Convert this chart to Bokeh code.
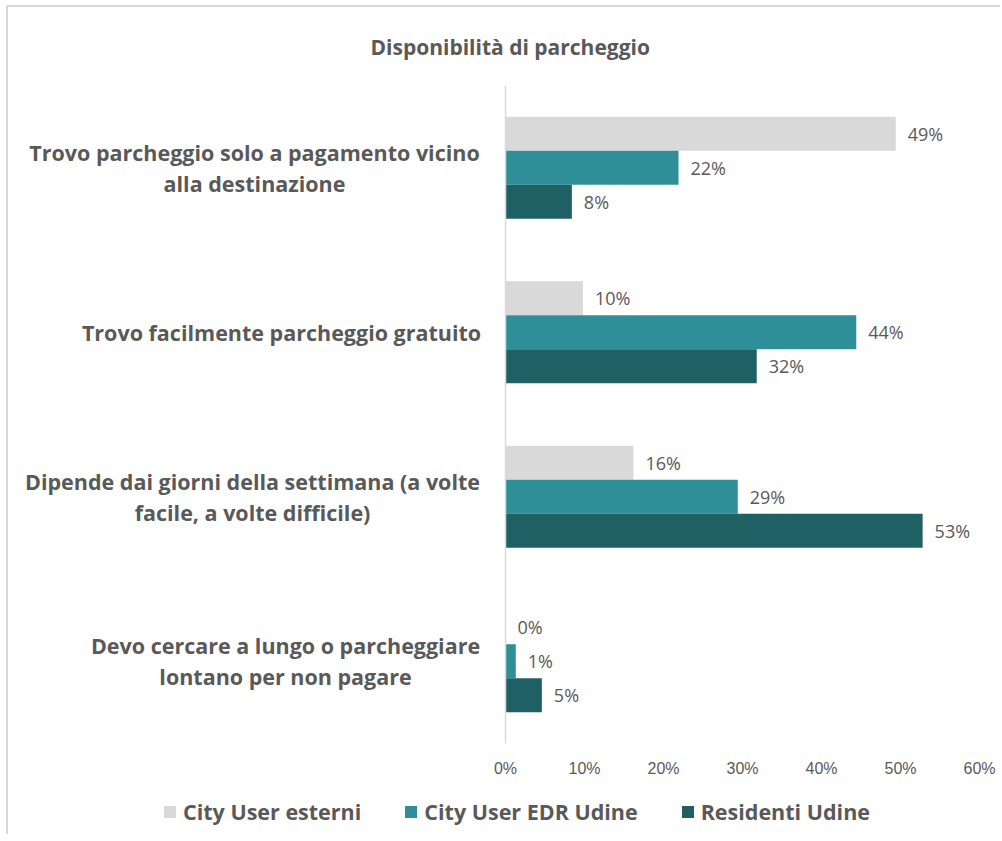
from bokeh.plotting import figure
from bokeh.layouts import column
from bokeh.models import ColumnDataSource, FactorRange, Range1d, Legend, LegendItem, FixedTicker, Span
from bokeh.transform import dodge
from bokeh.core.properties import value
from bokeh.embed import file_html
from bokeh.resources import INLINE

title = "Disponibilità di parcheggio"
categories = [
    "Trovo parcheggio solo a pagamento vicino\nalla destinazione",
    "Trovo facilmente parcheggio gratuito",
    "Dipende dai giorni della settimana (a volte\nfacile, a volte difficile)",
    "Devo cercare a lungo o parcheggiare\nlontano per non pagare",
]
series = ["City User esterni", "City User EDR Udine", "Residenti Udine"]
city_user_esterni = [49.4, 9.8, 16.2, 0.0]
city_user_edr_udine = [21.9, 44.4, 29.4, 1.3]
residenti_udine = [8.4, 31.8, 52.8, 4.6]
x_ticks = [0, 10, 20, 30, 40, 50, 60]
x_tick_labels = ["0%", "10%", "20%", "30%", "40%", "50%", "60%"]

# layout/style: horizontal centre of each category label, px left of the 0% line
label_centre_px = [-251, -224, -253, -220]

colors = ["#D9D9D9", "#2F8F98", "#1F6064"]
TXT = "#595959"
FONT = "Open Sans"

columns = [city_user_esterni, city_user_edr_udine, residenti_udine]
data = {"cat": categories, "zero": [0] * len(categories), "lx": label_centre_px}
for i, col in enumerate(columns):
    data[f"v{i}"] = col
    data[f"l{i}"] = [f"{round(v):d}%" for v in col]
source = ColumnDataSource(data)

# frame spans from the left border to 60%; the 0% line sits 487px into the frame
p = figure(
    width=992, height=783,
    y_range=FactorRange(factors=list(reversed(categories))),
    x_range=Range1d(-61.65, 60),
    output_backend="svg", toolbar_location=None,
    min_border_left=10, min_border_right=21, min_border_top=77, min_border_bottom=47,
)
p.outline_line_color = None
p.background_fill_color = "white"
p.border_fill_color = "white"
p.xgrid.grid_line_color = None
p.ygrid.grid_line_color = None
p.yaxis.visible = False

p.add_layout(Span(location=0, dimension="height", line_color="#D9D9D9", line_width=1.5))

bh = 0.207
offsets = [bh, 0.0, -bh]
for i in range(3):
    p.hbar(y=dodge("cat", offsets[i], range=p.y_range), right=f"v{i}", left=0,
           height=bh, fill_color=colors[i], line_color=None, source=source)
    p.text(x=f"v{i}", y=dodge("cat", offsets[i], range=p.y_range), text=f"l{i}",
           x_offset=12, text_align="left", text_baseline="middle",
           text_font=value(FONT), text_font_size="18px", text_color=TXT, source=source)

# category labels, centred multi-line text left of the 0% line
p.text(x="zero", y="cat", text="cat", x_offset="lx", source=source,
       text_align="center", text_baseline="middle",
       text_font=value(FONT), text_font_style="bold",
       text_font_size="21.5px", text_color=TXT, text_line_height=1.07)

# x axis
p.xaxis.ticker = FixedTicker(ticks=x_ticks)
p.xaxis.major_label_overrides = {t: l for t, l in zip(x_ticks, x_tick_labels)}
p.xaxis.axis_line_color = None
p.xaxis.major_tick_line_color = None
p.xaxis.minor_tick_line_color = None
p.xaxis.major_label_standoff = 10
p.xaxis.major_label_text_font = "Liberation Sans"
p.xaxis.major_label_text_font_size = "16px"
p.xaxis.major_label_text_color = TXT

# title
p.title.text = title
p.title.align = "left"
p.title.offset = 352
p.title.vertical_align = "middle"
p.title.standoff = 48
p.title.text_font = FONT
p.title.text_font_style = "bold"
p.title.text_font_size = "21px"
p.title.text_color = TXT

# legend strip below the chart (its renderers draw nothing themselves)
pl = figure(width=992, height=44, x_range=Range1d(100, 101),
            y_range=FactorRange(factors=list(reversed(categories))),
            output_backend="svg", toolbar_location=None,
            min_border_left=0, min_border_right=0, min_border_top=0, min_border_bottom=0)
pl.axis.visible = False
pl.grid.visible = False
pl.outline_line_color = None
pl.border_fill_color = "white"
pl.background_fill_color = "white"
items = []
for i, (s, c) in enumerate(zip(series, colors)):
    r = pl.hbar(y=dodge("cat", offsets[i], range=pl.y_range), right=f"v{i}", left=0,
                height=0, fill_color=c, line_color=None, source=source)
    items.append(LegendItem(label=s, renderers=[r]))
legend = Legend(
    items=items, orientation="horizontal", location=(144, 8),
    glyph_width=15, glyph_height=15, label_standoff=6, spacing=42,
    margin=0, padding=0, border_line_color=None, background_fill_alpha=0,
    label_text_font=FONT, label_text_font_style="bold", label_text_font_size="21.5px",
    label_text_color=TXT,
)
pl.add_layout(legend, "center")

layout = column(p, pl, spacing=0)
layout.styles = {"margin-left": "6px", "margin-top": "5px",
                 "border-left": "2px solid #D9D9D9", "border-top": "2px solid #D9D9D9"}

open("out.html", "w").write(file_html(layout, INLINE))
